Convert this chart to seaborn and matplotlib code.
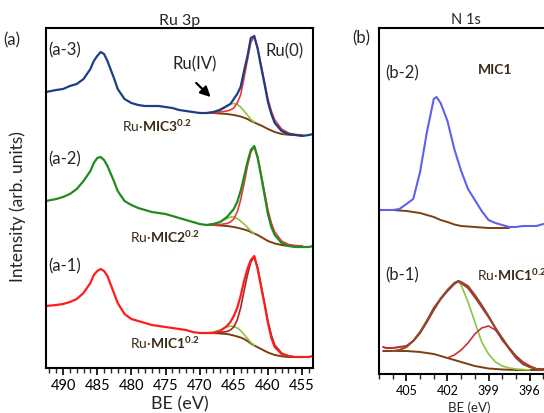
import numpy as np
import matplotlib
matplotlib.use("Agg")
import matplotlib.pyplot as plt
import seaborn as sns
from matplotlib.ticker import MultipleLocator

# ---- Ru 3p (panel a) : binding energies and intensities ----
E_A = [492.5, 491, 490, 489, 488, 487, 486, 485.5, 485, 484.5, 484, 483.5, 483, 482.5, 482,
       481, 480, 479, 478, 477, 476, 475, 474, 473, 472, 471, 470, 469, 468, 467, 466,
       465.5, 465, 464.5, 464, 463.5, 463, 462.5, 462, 461.5, 461, 460.5, 460, 459.5, 459,
       458, 457, 456, 455, 454, 453.4]
a3 = [43, 45, 46, 49, 51, 56, 66, 74, 79, 83, 81, 74, 65, 56, 46,
      36, 32, 30, 29, 29, 29, 28, 27, 25, 24, 23, 22, 22, 23, 25, 29,
      31, 36, 41, 48, 64, 79, 97, 99, 86, 68, 51, 33, 21, 12,
      4, 1, 0, -1, 0, 1]
a2 = [45, 47, 49, 52, 57, 65, 75, 83, 88, 89, 86, 80, 72, 64, 55,
      45, 41, 38, 36, 34, 33, 32, 30, 28, 26, 24, 22, 21, 22, 24, 29,
      33, 37, 44, 55, 69, 84, 96, 100, 88, 70, 51, 32, 19, 11,
      3, 0, -1, -1, -1, 0]
a1 = [51, 52, 53, 55, 58, 64, 74, 82, 86, 88, 86, 81, 72, 63, 54,
      43, 38, 36, 34, 32, 31, 30, 29, 28, 27, 25, 24, 24, 24, 26, 31,
      35, 41, 49, 61, 76, 88, 97, 101, 88, 70, 53, 34, 19, 10,
      3, 1, 0, 0, 0, 1]

# fitted components
E_FIT = [469, 468, 467, 466, 465.5, 465, 464.5, 464, 463.5, 463, 462.5, 462, 461.5, 461,
         460.5, 460, 459.5, 459, 458, 457, 456, 455]
bg_a3 = [22, 22, 21.5, 21, 20.5, 20, 19.3, 18.5, 17.3, 16, 14, 12.5, 11, 9.5, 7.8, 6, 4.5, 3, 1, 0.3, 0, 0]
bg_a2 = [21, 21, 20.5, 20, 19.5, 19, 18.3, 17.5, 16.5, 15.5, 14, 12.5, 11, 9, 7, 5, 3.8, 2.5, 1, 0, 0, 0]
bg_a1 = [24, 24, 23.5, 23, 22.3, 21.5, 20.5, 19.5, 18, 16, 13.5, 11.5, 9.8, 8, 6.2, 4.5, 3.2, 2, 0.7, 0, 0, 0]
ru0_a3 = [22, 22, 23, 24, 25, 27, 32, 40, 57, 75, 93, 98, 87, 70, 53, 36, 24, 15, 6, 2, 0.5, 0]
ru0_a2 = [21, 21, 21.5, 22.5, 24, 27, 34, 46, 62, 80, 94, 99, 89, 72, 54, 36, 23, 14, 5, 1.5, 0.5, 0]
ru0_a1 = [24, 24, 24.5, 25.5, 27, 30, 37, 49, 66, 82, 95, 100, 89, 72, 54, 36, 22, 12, 4, 1, 0, 0]

E_IV = [469, 468, 467, 466, 465.5, 465, 464.5, 464, 463.5, 463, 462.5, 462]
ru4_a3 = [22, 23, 26, 29.5, 31, 31.5, 30.5, 28, 24, 20, 15.5, 13]
ru4_a2 = [21, 22, 24, 27.5, 29, 29, 27.5, 25, 22, 18.5, 15, 12.8]
ru4_a1 = [24, 25, 27, 30, 31, 30.5, 29, 26.5, 22.5, 18.5, 14.5, 12]

# ---- N 1s (panel b) ----
E_B2 = [407, 406.5, 406, 405.5, 405, 404.5, 404, 403.5, 403, 402.8, 402.5, 402, 401.5, 401,
        400.5, 400, 399.5, 399, 398.5, 398, 397.5, 397, 396.5, 396, 395.5, 395]
b2 = [17, 17, 17, 18, 23, 28, 55, 95, 128, 130, 124, 106, 78, 56,
      38, 27, 16, 7, 4, 2, 0, 0, 1, 1, 1, 3]
E_BG2 = [407, 406, 405, 404.5, 404, 403.5, 403, 402.5, 402, 401.5, 401, 400, 399, 398, 397.5]
bg_b2 = [17, 17, 16, 15, 14, 12, 10, 7, 5, 2.5, 1, 0, -1, -1, -1]

E_B1 = [406.7, 406.5, 406, 405.5, 405, 404.5, 404, 403.5, 403, 402.5, 402, 401.5, 401.2, 401,
        400.5, 400, 399.5, 399, 398.5, 398, 397.5, 397, 396.5, 396, 395.5, 395]
b1 = [23, 22, 22, 23, 24, 29, 38, 49, 62, 71, 79, 86, 89, 87,
      82, 73, 63, 53, 42, 30, 22, 14, 8, 4, 1, 1]
E_ENV = [406, 405.5, 405, 404.5, 404, 403.5, 403, 402.5, 402, 401.5, 401.2, 401,
         400.5, 400, 399.5, 399, 398.5, 398, 397.5, 397, 396.5, 396, 395.5, 395]
env_b1 = [19, 20, 23, 29, 37, 48, 60, 71, 80, 87, 89, 88, 84, 75, 65, 54, 42, 32, 22, 13, 6, 3, 1, 0.5]
E_N1 = [406, 405.5, 405, 404.5, 404, 403.5, 403, 402.5, 402, 401.5, 401.2, 401,
        400.5, 400, 399.5, 399, 398.5, 398, 397.5, 397, 396.5, 396]
n1_b1 = [19, 20, 23, 29, 37, 50, 60, 72, 80, 87, 88, 85, 68, 48, 28, 16, 8, 4, 2, 1, 0.5, 0]
E_N2 = [402, 401.5, 401, 400.5, 400, 399.5, 399, 398.5, 398, 397.5, 397, 396.5, 396, 395.5, 395]
n2_b1 = [12, 15, 20, 27, 36, 42, 44, 40, 31, 21, 12, 6, 3, 1, 1]
E_BG1 = [406.7, 406, 405, 404, 403, 402, 401, 400, 399, 398, 397, 396, 395]
bg_b1 = [19, 19, 19, 18, 16, 12, 8, 4, 1.5, 0.5, 0, 0, 0]

# vertical stacking offsets
OFF_A = {"a3": 233, "a2": 122, "a1": 11}
OFF_B = {"b2": 147, "b1": 4}

sns.set_theme(style="white")
plt.rcParams["font.family"] = ["Lato", "DejaVu Sans"]
plt.rcParams["mathtext.fontset"] = "custom"
plt.rcParams["mathtext.rm"] = "Lato"
plt.rcParams["mathtext.bf"] = "Lato:bold"

BROWN = "#7b3f12"
LGREEN = "#8cc63f"
FITRED = "#e8393c"
TXT = "#3b2a14"


def draw(ax, x, y, off, color, lw):
    sns.lineplot(x=x, y=np.asarray(y, dtype=float) + off, ax=ax, color=color,
                 lw=lw, estimator=None, legend=False)


fig = plt.figure(figsize=(5.44, 4.14), dpi=100)
W, H = 544, 414
ax_a = fig.add_axes([46 / W, 1 - 369 / H, (313 - 46) / W, (369 - 29) / H])
ax_b = fig.add_axes([379 / W, 1 - 375 / H, (557 - 379) / W, (375 - 29) / H])

# panel a
for data, bg, ru0, ru4, key, col, fitcol in [
        (a3, bg_a3, ru0_a3, ru4_a3, "a3", "#1f3c88", FITRED),
        (a2, bg_a2, ru0_a2, ru4_a2, "a2", "#1e8c1e", FITRED),
        (a1, bg_a1, ru0_a1, ru4_a1, "a1", "#ff1c1c", "#a02828")]:
    off = OFF_A[key]
    draw(ax_a, E_FIT, bg, off, BROWN, 1.4)
    draw(ax_a, E_IV, ru4, off, LGREEN, 1.2)
    draw(ax_a, E_FIT, ru0, off, fitcol, 1.2)
    draw(ax_a, E_A, data, off, col, 1.6)

ax_a.set_xlim(492.5, 453.4)
ax_a.set_ylim(0, 340)
ax_a.xaxis.set_major_locator(MultipleLocator(5))
ax_a.xaxis.set_minor_locator(MultipleLocator(1))
ax_a.set_yticks([])
ax_a.tick_params(axis="x", which="major", length=5, width=1.2, labelsize=10.5, pad=2,
                 bottom=True, direction="out", colors="black")
ax_a.tick_params(axis="x", which="minor", length=3.5, width=1.0, bottom=True, direction="out")
ax_a.set_xlabel("")
ax_a.set_ylabel("")
for s in ax_a.spines.values():
    s.set_color("black")
    s.set_linewidth(1.5)

ax_a.text(492.2, 319, "(a-3)", fontsize=12, va="center", ha="left")
ax_a.text(492.2, 210, "(a-2)", fontsize=12, va="center", ha="left")
ax_a.text(492.2, 103, "(a-1)", fontsize=12, va="center", ha="left")
ax_a.text(460.4, 318, "Ru(0)", fontsize=12, va="center", ha="left")
ax_a.text(474.0, 305, "Ru(IV)", fontsize=12, va="center", ha="left")
ax_a.annotate("", xy=(468.1, 269), xytext=(470.8, 287),
              arrowprops=dict(arrowstyle="-|>,head_length=0.5,head_width=0.25",
                              color="black", lw=1.6))
ax_a.text(481.4, 243, r"Ru·$\mathbf{MIC3^{0.2}}$", fontsize=10, color=TXT, va="center", ha="left")
ax_a.text(480.2, 132, r"Ru·$\mathbf{MIC2^{0.2}}$", fontsize=10, color=TXT, va="center", ha="left")
ax_a.text(480.2, 26, r"Ru·$\mathbf{MIC1^{0.2}}$", fontsize=10, color=TXT, va="center", ha="left")

# panel b
draw(ax_b, E_BG2, bg_b2, OFF_B["b2"], BROWN, 1.4)
draw(ax_b, E_B2, b2, OFF_B["b2"], "#6060f0", 1.5)
draw(ax_b, E_BG1, bg_b1, OFF_B["b1"], BROWN, 1.4)
draw(ax_b, E_N1, n1_b1, OFF_B["b1"], LGREEN, 1.2)
draw(ax_b, E_N2, n2_b1, OFF_B["b1"], "#c8323a", 1.2)
draw(ax_b, E_B1, b1, OFF_B["b1"], "#b5323a", 1.5)
draw(ax_b, E_ENV, env_b1, OFF_B["b1"], "#8b4a2b", 1.4)

ax_b.set_xlim(407, 394)
ax_b.set_ylim(0, 346)
ax_b.xaxis.set_major_locator(MultipleLocator(3))
ax_b.xaxis.set_minor_locator(MultipleLocator(1))
ax_b.set_yticks([])
ax_b.tick_params(axis="x", which="major", length=5, width=1.2, labelsize=9, pad=2,
                 bottom=True, direction="out", colors="black")
ax_b.tick_params(axis="x", which="minor", length=3.5, width=1.0, bottom=True, direction="out")
ax_b.set_xlabel("")
ax_b.set_ylabel("")
for s in ax_b.spines.values():
    s.set_color("black")
    s.set_linewidth(1.5)

ax_b.text(406.56, 302, "(b-2)", fontsize=12, va="center", ha="left")
ax_b.text(399.8, 305, "MIC1", fontsize=10, fontweight="bold", color=TXT, va="center", ha="left")
ax_b.text(406.56, 100, "(b-1)", fontsize=12, va="center", ha="left")
ax_b.text(399.85, 100, r"Ru·$\mathbf{MIC1^{0.2}}$", fontsize=10, color=TXT, va="center", ha="left")

# figure-level labels
fig.text(3 / W, 1 - 40 / H, "(a)", fontsize=12, va="center", ha="left")
fig.text(352 / W, 1 - 38 / H, "(b)", fontsize=12, va="center", ha="left")
fig.text(179.5 / W, 1 - 21 / H, "Ru 3p", fontsize=11.5, va="center", ha="center")
fig.text(466 / W, 1 - 20 / H, "N 1s", fontsize=10.5, va="center", ha="center")
fig.text(180 / W, 1 - 404 / H, "BE (eV)", fontsize=13, va="center", ha="center")
fig.text(469 / W, 1 - 408 / H, "BE (eV)", fontsize=9.5, va="center", ha="center")
fig.text(18 / W, 1 - 207 / H, "Intensity (arb. units)", fontsize=12.5, rotation=90,
         va="center", ha="center")

fig.savefig("out.png", dpi=100)
